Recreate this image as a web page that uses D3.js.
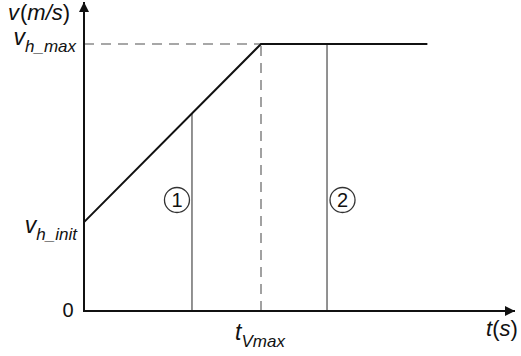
<!DOCTYPE html>
<html>
<head>
<meta charset="utf-8">
<script src="https://cdn.jsdelivr.net/npm/d3@7"></script>
<style>
  html, body { margin: 0; padding: 0; background: #fff; }
  svg { display: block; }
  text { font-family: "Liberation Sans", Arial, Helvetica, sans-serif; fill: #111; }
</style>
</head>
<body>
<svg id="chart" width="521" height="356"></svg>
<script>
// Speed profile: linear ramp from the initial speed up to the maximum, then a constant plateau
const profileTime = [0, 10, 19.4];
const profileSpeed = [3.33, 10, 10];

// Key levels and instants
const vInit = 3.33;
const vMax = 10;
const tVmax = 10;

// Section markers (vertical cuts) and their circled numbers
const sectionTime = [6.1, 13.73];
const sectionLabels = ["1", "2"];

// Axis extents (arrow tips)
const timeAxisEnd = 24.35;
const speedAxisEnd = 11.57;

const svg = d3.select("#chart");

const x = d3.scaleLinear().domain([0, 10]).range([84, 261]);
const y = d3.scaleLinear().domain([0, 10]).range([311, 44]);

// linear interpolation of the profile to find where a cut meets the curve
const speedAt = t => {
  for (let i = 0; i < profileTime.length - 1; i++) {
    const t0 = profileTime[i], t1 = profileTime[i + 1];
    if (t >= t0 && t <= t1) {
      const f = (t - t0) / (t1 - t0);
      return profileSpeed[i] + f * (profileSpeed[i + 1] - profileSpeed[i]);
    }
  }
  return profileSpeed[profileSpeed.length - 1];
};

// arrow markers
const defs = svg.append("defs");
defs.append("marker")
  .attr("id", "arrow")
  .attr("viewBox", "0 0 10 10")
  .attr("refX", 10).attr("refY", 5)
  .attr("markerUnits", "userSpaceOnUse")
  .attr("markerWidth", 11).attr("markerHeight", 10)
  .attr("orient", "auto")
  .append("path")
  .attr("d", "M0,0 L10,5 L0,10 Z")
  .attr("fill", "#111");

// dashed guides to v_h_max and t_Vmax
const guide = svg.append("g")
  .attr("stroke", "#8a8a8a")
  .attr("stroke-width", 1.6)
  .attr("stroke-dasharray", "10,7")
  .attr("fill", "none");
guide.append("line")
  .attr("x1", x(0)).attr("y1", y(vMax))
  .attr("x2", x(tVmax)).attr("y2", y(vMax));
guide.append("line")
  .attr("x1", x(tVmax)).attr("y1", y(0))
  .attr("x2", x(tVmax)).attr("y2", y(vMax));

// section cuts
svg.append("g")
  .selectAll("line")
  .data(sectionTime)
  .join("line")
  .attr("x1", d => x(d)).attr("x2", d => x(d))
  .attr("y1", y(0))
  .attr("y2", d => y(speedAt(d)))
  .attr("stroke", "#777")
  .attr("stroke-width", 1.6);

// speed curve
const line = d3.line().x(d => x(d[0])).y(d => y(d[1]));
svg.append("path")
  .datum(profileTime.map((t, i) => [t, profileSpeed[i]]))
  .attr("d", line)
  .attr("fill", "none")
  .attr("stroke", "#111")
  .attr("stroke-width", 2);

// axes with arrowheads
svg.append("line")
  .attr("x1", x(0)).attr("y1", y(0))
  .attr("x2", x(timeAxisEnd)).attr("y2", y(0))
  .attr("stroke", "#111").attr("stroke-width", 2)
  .attr("marker-end", "url(#arrow)");
svg.append("line")
  .attr("x1", x(0)).attr("y1", y(0) + 1)
  .attr("x2", x(0)).attr("y2", y(speedAxisEnd))
  .attr("stroke", "#111").attr("stroke-width", 2)
  .attr("marker-end", "url(#arrow)");

// circled section numbers
const badges = svg.append("g")
  .selectAll("g")
  .data(sectionTime.map((t, i) => ({ t, label: sectionLabels[i] })))
  .join("g")
  .attr("transform", (d, i) => `translate(${x(d.t) + (i === 0 ? -15 : 15.5)},200)`);
badges.append("circle")
  .attr("r", 12.5)
  .attr("fill", "#fff")
  .attr("stroke", "#333")
  .attr("stroke-width", 1.3);
badges.append("text")
  .attr("text-anchor", "middle")
  .attr("dy", "0.36em")
  .attr("font-size", 20)
  .text(d => d.label);

// axis titles
const ytitle = svg.append("text")
  .attr("x", 8).attr("y", 20)
  .attr("font-size", 22)
  .attr("font-style", "italic");
ytitle.append("tspan").text("v");
ytitle.append("tspan").attr("font-style", "normal").attr("dx", 1).text("(");
ytitle.append("tspan").text("m/s");
ytitle.append("tspan").attr("font-style", "normal").text(")");

const xtitle = svg.append("text")
  .attr("x", 486).attr("y", 336)
  .attr("font-size", 22)
  .attr("font-style", "italic");
xtitle.append("tspan").text("t");
xtitle.append("tspan").attr("font-style", "normal").text("(");
xtitle.append("tspan").text("s");
xtitle.append("tspan").attr("font-style", "normal").text(")");

// level and instant labels with subscripts
function subLabel(xPos, yPos, main, sub, anchor) {
  const t = svg.append("text")
    .attr("x", xPos).attr("y", yPos)
    .attr("text-anchor", anchor)
    .attr("font-style", "italic");
  t.append("tspan").attr("font-size", 23).text(main);
  t.append("tspan").attr("font-size", 17).attr("dy", 7).text(sub);
  return t;
}
subLabel(76, y(vMax) + 1, "v", "h_max", "end");
subLabel(77, y(vInit) + 11, "v", "h_init", "end");
subLabel(x(tVmax) - 1, y(0) + 29, "t", "Vmax", "middle");

// origin
svg.append("text")
  .attr("x", 68).attr("y", y(0) + 6)
  .attr("text-anchor", "middle")
  .attr("font-size", 20)
  .text("0");
</script>
</body>
</html>
